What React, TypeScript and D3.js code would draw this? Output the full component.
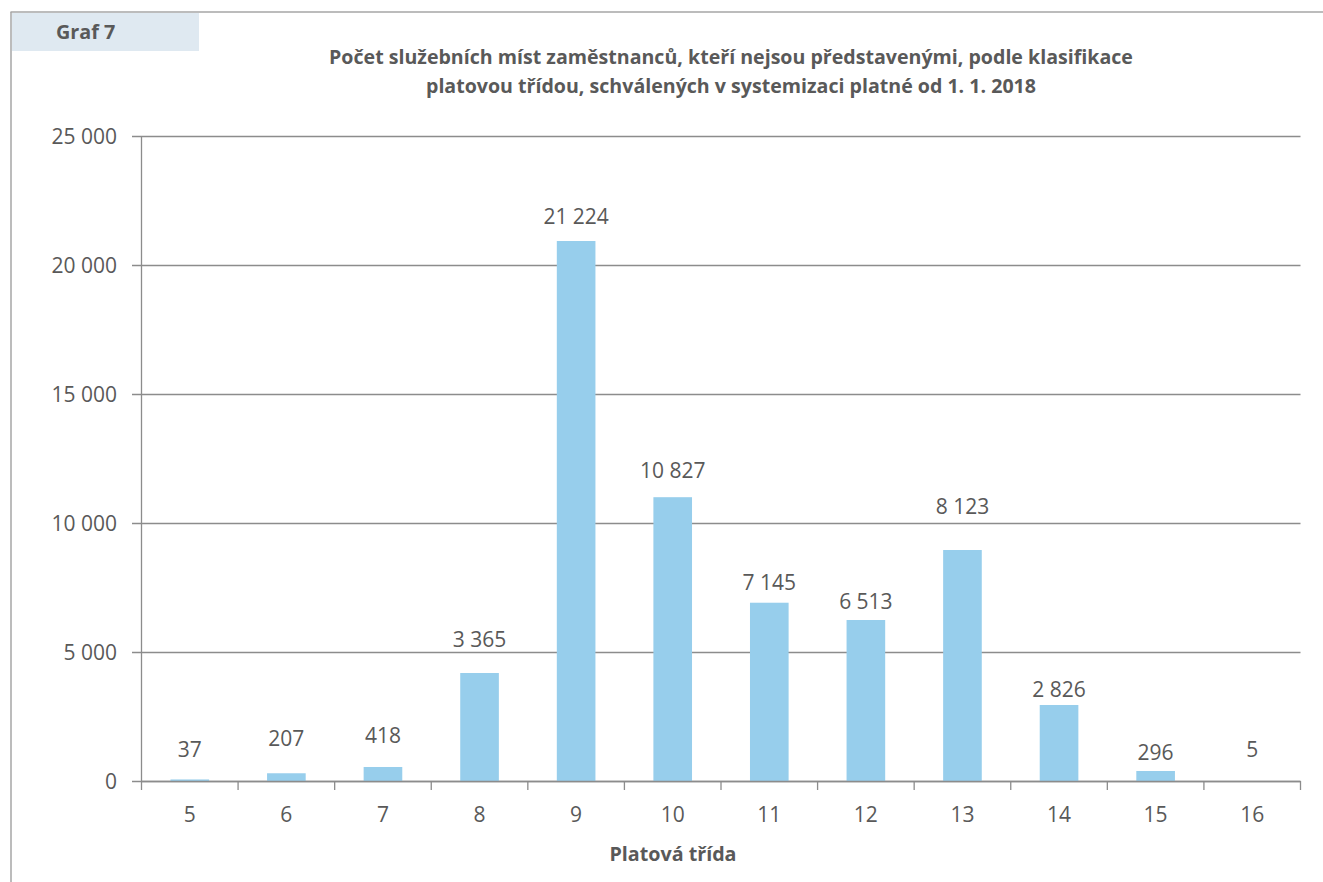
import React from "react";
import * as d3 from "d3";

const categories = ["5", "6", "7", "8", "9", "10", "11", "12", "13", "14", "15", "16"];
// bar heights as drawn in the picture
const barValues = [60, 300, 543, 4186, 20930, 11000, 6910, 6240, 8953, 2946, 388, 0];
// printed data labels
const labelTexts = ["37", "207", "418", "3 365", "21 224", "10 827", "7 145", "6 513", "8 123", "2 826", "296", "5"];
// value level at which each label sits
const labelLevels = [930, 1357, 1473, 5194, 21589, 11744, 7403, 6667, 10349, 3256, 814, 930];
const yTicks = [0, 5000, 10000, 15000, 20000, 25000];
const yTickLabels = ["0", "5 000", "10 000", "15 000", "20 000", "25 000"];

const titleLines = [
  "Počet služebních míst zaměstnanců, kteří nejsou představenými, podle klasifikace",
  "platovou třídou, schválených v systemizaci platné od 1. 1. 2018",
];

export default function App() {
  const W = 1323, H = 882;
  const x0 = 141.5, x1 = 1300.5, yTop = 136, yBase = 781;
  const x = d3.scaleBand<string>().domain(categories).range([x0, x1]).padding(0);
  const y = d3.scaleLinear().domain([0, 25000]).range([yBase, yTop]);
  const bw = x.bandwidth() * 0.4;
  const font = "'Open Sans', sans-serif";
  const txt = "#595959";
  const axisC = "#8c8c8c";
  const bounds = categories.map((c) => x(c) as number).concat([x1]);

  return (
    <svg width={W} height={H} style={{ position: "absolute", left: 0, top: 0 }} fontFamily={font}>
      <rect x={0} y={0} width={W} height={H} fill="#fff" />
      {/* frame */}
      <line x1={10.5} x2={W} y1={12} y2={12} stroke="#a6a6a6" strokeWidth={1.5} />
      <line x1={11} x2={11} y1={12} y2={H} stroke="#a6a6a6" strokeWidth={1.5} />
      <rect x={12} y={13} width={187} height={38} fill="#dfe9f1" />
      <text x={56} y={39} fontSize={19.8} fontWeight={700} fill={txt}>Graf 7</text>
      {/* title */}
      {titleLines.map((t, i) => (
        <text key={i} x={731} y={64 + i * 29} textAnchor="middle" fontSize={19.6} fontWeight={700} fill={txt}>{t}</text>
      ))}
      {/* gridlines + y ticks */}
      {yTicks.map((v, i) => (
        <g key={v}>
          <line x1={132} x2={x1} y1={Math.round(y(v)) + 0.5} y2={Math.round(y(v)) + 0.5} stroke={axisC} strokeWidth={1.3} />
          <text x={117} y={y(v)} dy="0.36em" textAnchor="end" fontSize={21} fill={txt}>{yTickLabels[i]}</text>
        </g>
      ))}
      {/* y axis */}
      <line x1={x0} x2={x0} y1={yTop} y2={yBase} stroke={axisC} strokeWidth={1.3} />
      {/* bars */}
      {categories.map((c, i) => (
        <rect key={c} x={(x(c) as number) + (x.bandwidth() - bw) / 2} y={y(barValues[i])} width={bw}
          height={yBase - y(barValues[i])} fill="#97ceec" />
      ))}
      {/* x axis */}
      <line x1={x0} x2={x1} y1={yBase + 0.5} y2={yBase + 0.5} stroke={axisC} strokeWidth={1.3} />
      {bounds.map((b, i) => (
        <line key={i} x1={b} x2={b} y1={yBase} y2={yBase + 9} stroke={axisC} strokeWidth={1.3} />
      ))}
      {categories.map((c) => (
        <text key={c} x={(x(c) as number) + x.bandwidth() / 2} y={822} textAnchor="middle" fontSize={21} fill={txt}>{c}</text>
      ))}
      {/* data labels */}
      {categories.map((c, i) => (
        <text key={c} x={(x(c) as number) + x.bandwidth() / 2} y={y(labelLevels[i])} textAnchor="middle" fontSize={21} fill={txt}>{labelTexts[i]}</text>
      ))}
      <text x={673} y={861} textAnchor="middle" fontSize={19.7} fontWeight={700} fill={txt}>Platová třída</text>
    </svg>
  );
}
